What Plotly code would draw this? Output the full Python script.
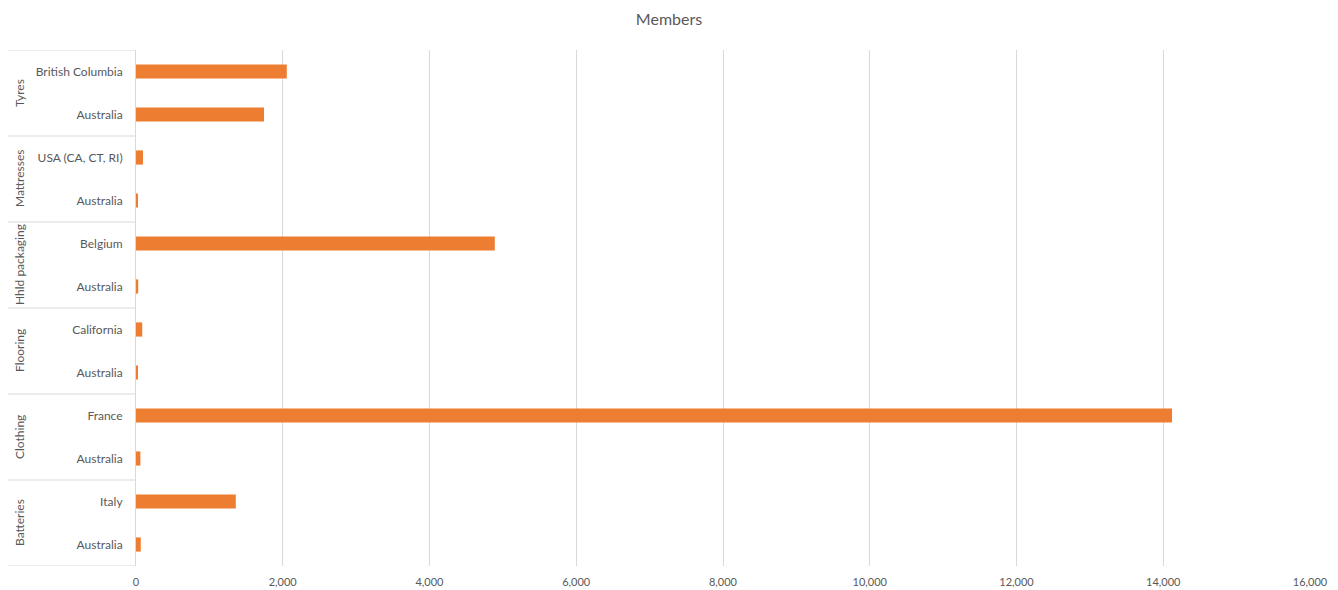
import plotly.graph_objects as go

groups = ["Tyres", "Tyres", "Mattresses", "Mattresses", "Hhld packaging", "Hhld packaging",
          "Flooring", "Flooring", "Clothing", "Clothing", "Batteries", "Batteries"]
regions = ["British Columbia", "Australia", "USA (CA, CT, RI)", "Australia", "Belgium", "Australia",
           "California", "Australia", "France", "Australia", "Italy", "Australia"]
members = [2055, 1745, 95, 25, 4890, 30, 85, 15, 14120, 60, 1360, 65]
x_ticks = [0, 2000, 4000, 6000, 8000, 10000, 12000, 14000, 16000]

W, H = 1338, 590
ML, MR, MT, MB = 136, 28, 50, 24
plot_w = W - ML - MR

pos = list(range(len(regions)))
grid = "#d9d9d9"
txt = "#595959"
font_family = "Lato, Open Sans, sans-serif"

fig = go.Figure(go.Bar(
    x=members, y=pos, orientation="h",
    marker=dict(color="#ED7D31", line=dict(width=0)),
    width=0.33, hoverinfo="x",
))

group_order = []
for g in groups:
    if g not in group_order:
        group_order.append(g)
annotations = []
shapes = []
lx0 = -(ML - 8) / plot_w
for g in group_order:
    idx = [i for i, gg in enumerate(groups) if gg == g]
    center = sum(idx) / len(idx)
    annotations.append(dict(text=g, x=0, xref="paper", xshift=-117, y=center, yref="y",
                            textangle=-90, showarrow=False, xanchor="center", yanchor="middle",
                            font=dict(size=12, color=txt, family=font_family)))
    shapes.append(dict(type="line", xref="paper", yref="y", x0=lx0, x1=0,
                       y0=min(idx) - 0.5, y1=min(idx) - 0.5, line=dict(color=grid, width=1)))
shapes.append(dict(type="line", xref="paper", yref="y", x0=lx0, x1=0,
                   y0=len(pos) - 0.5, y1=len(pos) - 0.5, line=dict(color=grid, width=1)))

fig.update_layout(
    width=W, height=H,
    margin=dict(l=ML, r=MR, t=MT, b=MB, autoexpand=False),
    paper_bgcolor="white", plot_bgcolor="white",
    showlegend=False,
    title=dict(text="Members", xref="container", x=0.5, xanchor="center",
               yref="container", y=1, yanchor="top", pad=dict(t=14),
               font=dict(size=16, color=txt, family=font_family)),
    font=dict(family=font_family, size=11, color=txt),
    xaxis=dict(range=[0, 16000], tickvals=x_ticks, tickformat=",", showgrid=True,
               gridcolor=grid, gridwidth=1, zeroline=False, showline=False, automargin=False,
               ticks="", ticklabelstandoff=8, tickfont=dict(size=11, color=txt)),
    yaxis=dict(range=[len(pos) - 0.5, -0.5], tickvals=pos, ticktext=regions,
               showgrid=False, zeroline=False, showline=True, linecolor=grid, linewidth=1,
               automargin=False, ticks="", ticklabelstandoff=10,
               tickfont=dict(size=12, color=txt)),
    annotations=annotations,
    shapes=shapes,
)

fig.write_html("out.html")
